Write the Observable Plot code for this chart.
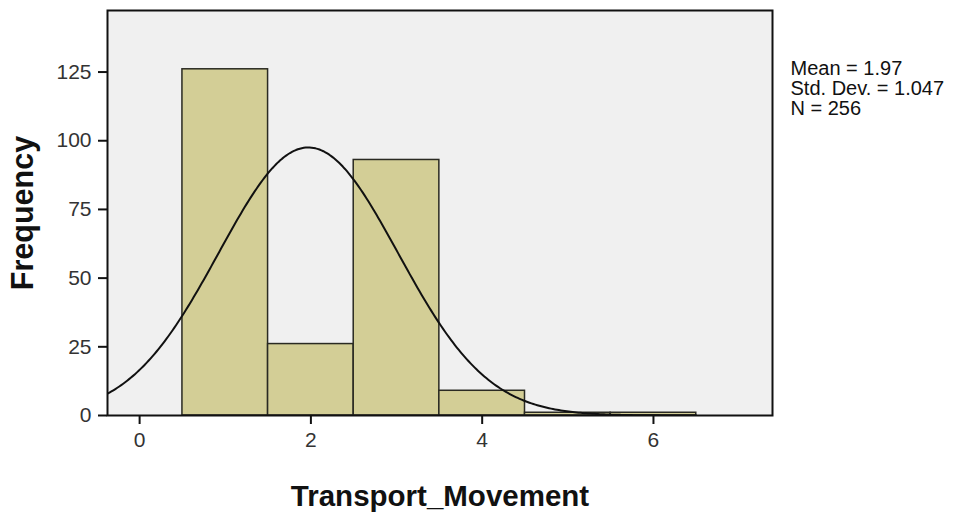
<!DOCTYPE html>
<html>
<head>
<meta charset="utf-8">
<script src="https://cdn.jsdelivr.net/npm/d3@7"></script>
<script src="https://cdn.jsdelivr.net/npm/@observablehq/plot@0.6"></script>
<style>
  html, body { margin: 0; padding: 0; background: #ffffff; }
  #chart svg { display: block; }
</style>
</head>
<body>
<div id="chart"></div>
<script>
// Histogram data (Transport_Movement)
const binCenters = [1, 2, 3, 4, 5, 6];
const frequencies = [126, 26, 93, 9, 1, 1];
const binWidth = 1;

// Summary statistics shown at right
const statMean = 1.97;
const statSD = 1.047;
const statN = 256;
const statLines = ["Mean = 1.97", "Std. Dev. = 1.047", "N = 256"];

// Axis ticks
const xTicks = [0, 2, 4, 6];
const yTicks = [0, 25, 50, 75, 100, 125];

const xTitle = "Transport_Movement";
const yTitle = "Frequency";

const bars = binCenters.map((c, i) => ({x1: c - binWidth / 2, x2: c + binWidth / 2, f: frequencies[i]}));

// Fitted normal curve from the displayed mean, SD and N
const xMin = -0.375, xMax = 7.39;
const curveEnd = 6.5;
const normal = [];
for (let k = 0; k <= 300; k++) {
  const x = xMin + (curveEnd - xMin) * k / 300;
  const z = (x - statMean) / statSD;
  normal.push({x, y: statN * binWidth / (statSD * Math.sqrt(2 * Math.PI)) * Math.exp(-0.5 * z * z)});
}

const chart = Plot.plot({
  width: 956,
  height: 517,
  marginLeft: 107,
  marginRight: 184,
  marginTop: 10,
  marginBottom: 102,
  style: {fontFamily: "'Liberation Sans', Arial, sans-serif", fontSize: "21px", color: "#222", background: "#ffffff"},
  x: {domain: [xMin, xMax]},
  y: {domain: [0, 147.4]},
  marks: [
    Plot.frame({fill: "#f0f0f0"}),
    Plot.rectY(bars, {x1: "x1", x2: "x2", y: "f", fill: "#d3ce96", stroke: "#2a2a22", strokeWidth: 1.5}),
    Plot.line(normal, {x: "x", y: "y", stroke: "#111", strokeWidth: 2, clip: true}),
    Plot.frame({stroke: "#111", strokeWidth: 2}),
    Plot.axisX({ticks: xTicks, tickSize: 9, tickPadding: 8, label: null, stroke: "#111", strokeWidth: 2, fontSize: 21, fill: "#333"}),
    Plot.axisY({ticks: yTicks, tickSize: 9, tickPadding: 7, label: null, stroke: "#111", strokeWidth: 2, fontSize: 21, fill: "#333"}),
    Plot.text([yTitle], {frameAnchor: "left", dx: -84, rotate: -90, textAnchor: "middle", fontSize: 30.5, fontWeight: "bold", fill: "#111"}),
    Plot.text([xTitle], {frameAnchor: "bottom", dy: 90, fontSize: 29.5, fontWeight: "bold", fill: "#111"}),
    Plot.text([statLines.join("\n")], {frameAnchor: "top-right", dx: 18, dy: 50, textAnchor: "start", lineAnchor: "top", lineHeight: 1.0, fontSize: 20, fill: "#111"})
  ]
});
document.getElementById("chart").appendChild(chart);
</script>
</body>
</html>
